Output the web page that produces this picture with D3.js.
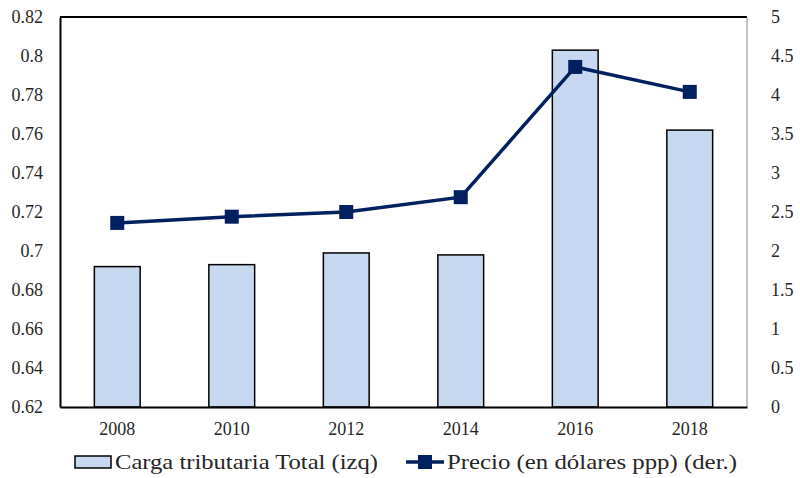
<!DOCTYPE html>
<html>
<head>
<meta charset="utf-8">
<script src="https://cdn.jsdelivr.net/npm/d3@7"></script>
<style>
  body { margin: 0; background: #fff; }
  svg text { font-family: "Liberation Serif", "DejaVu Serif", serif !important; fill: #262626; }
</style>
</head>
<body>
<div id="vis-container"></div>
<script>
// chart data
const years = ["2008", "2010", "2012", "2014", "2016", "2018"];
const cargaTributaria = [0.692, 0.693, 0.699, 0.698, 0.803, 0.762];
const precio = [2.36, 2.44, 2.50, 2.69, 4.36, 4.04];
const leftTicks = [0.62, 0.64, 0.66, 0.68, 0.7, 0.72, 0.74, 0.76, 0.78, 0.8, 0.82];
const rightTicks = [0, 0.5, 1, 1.5, 2, 2.5, 3, 3.5, 4, 4.5, 5];

const width = 800;
const height = 478;
const margin = { left: 60, right: 53, top: 17, bottom: 71 };

const svg = d3.select("#vis-container")
  .append("svg")
  .attr("width", width)
  .attr("height", height);

const x = d3.scaleBand()
  .domain(years)
  .range([margin.left, width - margin.right])
  .paddingInner(0.6)
  .paddingOuter(0.3);

const yLeft = d3.scaleLinear()
  .domain([0.62, 0.82])
  .range([height - margin.bottom, margin.top]);

const yRight = d3.scaleLinear()
  .domain([0, 5])
  .range([height - margin.bottom, margin.top]);

const navy = "#002060";
const barFill = "#C6D9F1";
const numFmt = d => String(+d.toFixed(2));

// plot frame: top and right, left and bottom drawn by axes
svg.append("line")
  .attr("x1", margin.left).attr("x2", width - margin.right)
  .attr("y1", margin.top).attr("y2", margin.top)
  .attr("stroke", "#000").attr("stroke-width", 2);
svg.append("line")
  .attr("x1", width - margin.right).attr("x2", width - margin.right)
  .attr("y1", margin.top).attr("y2", height - margin.bottom)
  .attr("stroke", "#888").attr("stroke-width", 1);

// bars
svg.selectAll(".bar")
  .data(years)
  .enter()
  .append("rect")
  .attr("class", "bar")
  .attr("x", d => x(d))
  .attr("width", x.bandwidth())
  .attr("y", (d, i) => yLeft(cargaTributaria[i]))
  .attr("height", (d, i) => yLeft(0.62) - yLeft(cargaTributaria[i]))
  .attr("fill", barFill)
  .attr("stroke", "#000")
  .attr("stroke-width", 1.5);

// left axis
svg.append("g")
  .attr("transform", `translate(${margin.left},0)`)
  .call(d3.axisLeft(yLeft).tickValues(leftTicks).tickSize(0).tickPadding(17).tickFormat(numFmt))
  .call(g => g.select(".domain").attr("stroke", "#000").attr("stroke-width", 2))
  .call(g => g.selectAll("text").attr("font-size", "18px"));

// right axis
svg.append("g")
  .attr("transform", `translate(${width - margin.right},0)`)
  .call(d3.axisRight(yRight).tickValues(rightTicks).tickSize(0).tickPadding(24).tickFormat(numFmt))
  .call(g => g.select(".domain").remove())
  .call(g => g.selectAll("text").attr("font-size", "18px"));

// bottom axis
svg.append("g")
  .attr("transform", `translate(0,${height - margin.bottom})`)
  .call(d3.axisBottom(x).tickSize(0).tickPadding(15))
  .call(g => g.select(".domain").attr("stroke", "#000").attr("stroke-width", 2))
  .call(g => g.selectAll("text").attr("font-size", "18px"));

// price line
const line = d3.line()
  .x((d, i) => x(years[i]) + x.bandwidth() / 2)
  .y(d => yRight(d));

svg.append("path")
  .datum(precio)
  .attr("fill", "none")
  .attr("stroke", navy)
  .attr("stroke-width", 3.5)
  .attr("d", line);

const mk = 14;
svg.selectAll(".marker")
  .data(precio)
  .enter()
  .append("rect")
  .attr("class", "marker")
  .attr("x", (d, i) => x(years[i]) + x.bandwidth() / 2 - mk / 2)
  .attr("y", d => yRight(d) - mk / 2)
  .attr("width", mk)
  .attr("height", mk)
  .attr("fill", navy);

// legend
const legendY = 462;
svg.append("rect")
  .attr("x", 75).attr("y", legendY - 6)
  .attr("width", 36).attr("height", 12)
  .attr("fill", barFill).attr("stroke", "#000").attr("stroke-width", 1.5);
svg.append("text")
  .attr("x", 115).attr("y", legendY + 7)
  .attr("font-size", "22px")
  .attr("textLength", 263)
  .attr("lengthAdjust", "spacingAndGlyphs")
  .text("Carga tributaria Total (izq)");

svg.append("line")
  .attr("x1", 406).attr("x2", 444)
  .attr("y1", legendY).attr("y2", legendY)
  .attr("stroke", navy).attr("stroke-width", 3.5);
svg.append("rect")
  .attr("x", 425 - mk / 2).attr("y", legendY - mk / 2)
  .attr("width", mk).attr("height", mk)
  .attr("fill", navy);
svg.append("text")
  .attr("x", 447).attr("y", legendY + 7)
  .attr("font-size", "22px")
  .attr("textLength", 290)
  .attr("lengthAdjust", "spacingAndGlyphs")
  .text("Precio (en dólares ppp) (der.)");
</script>
</body>
</html>
